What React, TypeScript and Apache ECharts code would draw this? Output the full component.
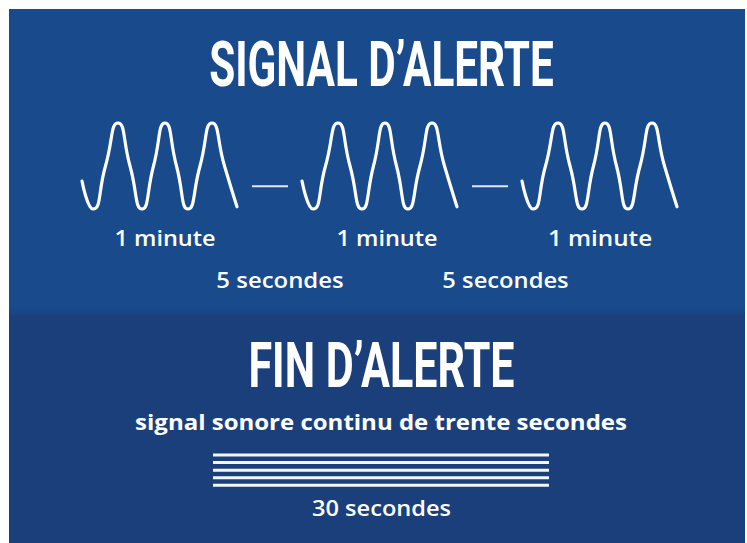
import React, { useEffect, useRef } from "react";
import * as echarts from "echarts";

// ---- data ----
// one wave of the alert signal: [offset along the wave (px), amplitude -1..1]
const waveShape: [number, number][] = [
  [0, -0.35], [11, -1], [23.5, 0], [36, 1], [48, 0], [60, -1], [71.5, 0],
  [83, 1], [94.5, 0], [106, -1], [118, 0], [130, 1], [142.5, 0], [155, -0.95],
];
const waveStarts = [73, 293, 513]; // three 1-minute waves
const pauseDashes: [number, number][] = [[243, 279], [463, 499]]; // 5 s pauses
const pauseLevel = -0.47;
const continuousSeconds = [0, 30];
const continuousLines = [0, 1, 2, 3, 4];

const titleTop = "SIGNAL D’ALERTE";
const titleBottom = "FIN D’ALERTE";
const minuteLabel = "1 minute";
const pauseLabel = "5 secondes";
const endDescription = "signal sonore continu de trente secondes";
const endLabel = "30 secondes";

// ---- layout (panel coordinates) ----
const PANEL_W = 736;
const PANEL_H = 534;
const SPLIT_Y = 306;
const TOP_BG = "#184a8c";
const BOTTOM_BG = "#1a3f7b";

const TITLE_FONT = { family: "Roboto", weight: 700, size: 63 };
const SMALL_FONT = { family: "Open Sans", weight: 600, size: 21 };
const DESC_FONT = { family: "Open Sans", weight: 700, size: 22 };

type F = { family: string; weight: number; size: number };

function inkWidth(text: string, f: F): number {
  const ctx = document.createElement("canvas").getContext("2d");
  if (!ctx) return text.length * f.size * 0.55;
  ctx.font = `${f.weight} ${f.size}px "${f.family}"`;
  const m = ctx.measureText(text);
  const w = (m.actualBoundingBoxLeft || 0) + (m.actualBoundingBoxRight || 0);
  return w > 0 ? w : m.width;
}

function textEl(text: string, cx: number, cy: number, targetW: number, f: F, extra: any = {}) {
  const sx = targetW / inkWidth(text, f);
  return {
    type: "text",
    x: cx,
    y: cy,
    scaleX: sx,
    z: 10,
    style: {
      text,
      fill: "#ffffff",
      fontFamily: f.family,
      fontWeight: f.weight,
      fontSize: f.size,
      align: "center",
      verticalAlign: "middle",
      textAlign: "center",
      textVerticalAlign: "middle",
      ...extra,
    },
  };
}

export default function App() {
  const ref = useRef<HTMLDivElement>(null);

  useEffect(() => {
    if (!ref.current) return;
    const chart = echarts.init(ref.current, undefined, { renderer: "svg" });

    const waveSeries = waveStarts.map((start) => ({
      type: "line",
      xAxisIndex: 0,
      yAxisIndex: 0,
      data: waveShape.map(([dx, a]) => [start + dx, a]),
      smooth: 0.6,
      symbol: "none",
      clip: false,
      silent: true,
      lineStyle: { color: "#ffffff", width: 3.2, cap: "round", join: "round" },
      z: 5,
    }));

    const dashSeries = pauseDashes.map(([a, b]) => ({
      type: "line",
      xAxisIndex: 0,
      yAxisIndex: 0,
      data: [[a, pauseLevel], [b, pauseLevel]],
      symbol: "none",
      clip: false,
      silent: true,
      lineStyle: { color: "#dfe7f2", width: 2 },
      z: 5,
    }));

    const contSeries = continuousLines.map((k) => ({
      type: "line",
      xAxisIndex: 1,
      yAxisIndex: 1,
      data: continuousSeconds.map((s) => [s, k]),
      symbol: "none",
      clip: false,
      silent: true,
      lineStyle: { color: "#f3f6fb", width: 3 },
      z: 5,
    }));

    chart.setOption({
      animation: false,
      backgroundColor: BOTTOM_BG,
      grid: [
        { left: 0, width: PANEL_W, top: 114, height: 86 },
        { left: 204, width: 336, top: 446, height: 30.3 },
      ],
      xAxis: [
        { type: "value", gridIndex: 0, min: 0, max: PANEL_W, show: false },
        { type: "value", gridIndex: 1, min: 0, max: 30, show: false },
      ],
      yAxis: [
        { type: "value", gridIndex: 0, min: -1, max: 1, show: false },
        { type: "value", gridIndex: 1, min: 0, max: 4, inverse: true, show: false },
      ],
      graphic: [
        {
          type: "rect",
          z: -10,
          shape: { x: 0, y: 0, width: PANEL_W, height: SPLIT_Y },
          style: { fill: TOP_BG },
          silent: true,
        },
        {
          type: "rect",
          z: -9,
          shape: { x: 0, y: SPLIT_Y - 8, width: PANEL_W, height: 8 },
          style: {
            fill: new echarts.graphic.LinearGradient(0, 0, 0, 1, [
              { offset: 0, color: "rgba(10,30,70,0)" },
              { offset: 1, color: "rgba(10,30,70,0.12)" },
            ]),
          },
          silent: true,
        },
        textEl(titleTop, 372.5, 55.5, 343, TITLE_FONT),
        textEl(minuteLabel, 156, 229.3, 100, SMALL_FONT),
        textEl(minuteLabel, 378, 229.3, 100, SMALL_FONT),
        textEl(minuteLabel, 591, 229.3, 103, SMALL_FONT),
        textEl(pauseLabel, 271, 271, 126, SMALL_FONT),
        textEl(pauseLabel, 496.5, 271, 125, SMALL_FONT),
        textEl(titleBottom, 372.5, 356.5, 263, TITLE_FONT),
        textEl(endDescription, 372, 412.5, 492, DESC_FONT),
        textEl(endLabel, 372.5, 499, 139, SMALL_FONT),
      ],
      series: [...waveSeries, ...dashSeries, ...contSeries],
    });

    return () => chart.dispose();
  }, []);

  return (
    <div
      ref={ref}
      style={{ position: "fixed", left: 9, top: 9, width: PANEL_W, height: PANEL_H }}
    />
  );
}
